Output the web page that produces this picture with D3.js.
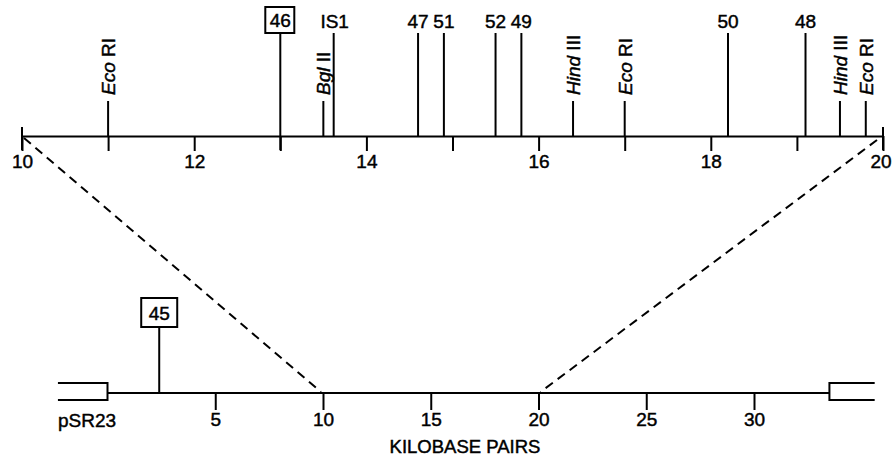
<!DOCTYPE html>
<html>
<head>
  <meta charset="utf-8">
  <title>pSR23 map</title>
  <script src="https://d3js.org/d3.v7.min.js"></script>
  <style>
    html, body { margin: 0; padding: 0; background: #fff; }
    svg { display: block; }
    text { font-family: "Liberation Sans", Arial, sans-serif; fill: #000; stroke: #000; stroke-width: 0.45px; }
    .line { stroke: #000; stroke-width: 2; fill: none; }
    .dash { stroke: #000; stroke-width: 2; stroke-dasharray: 9,6; fill: none; }
  </style>
</head>
<body>
  <svg width="892" height="457"></svg>
  <script>
    // Expanded segment (kb 10-20)
    const topTicks = d3.range(10, 21);
    const topTickLabels = [10, 12, 14, 16, 18, 20];

    // Restriction sites above the expanded segment
    const enzymeNames = ["Eco", "Bgl", "Hind", "Eco", "Hind", "Eco"];
    const enzymeSuffix = [" RI", " II", " III", " RI", " III", " RI"];
    const enzymePos = [11.0, 13.5, 16.4, 17.0, 19.5, 19.8];

    // Insertions in the expanded segment
    const insertLabels = ["46", "IS1", "47", "51", "52", "49", "50", "48"];
    const insertPos = [13.0, 13.62, 14.6, 14.9, 15.5, 15.8, 18.2, 19.1];
    const insertBoxed = [true, false, false, false, false, false, false, false];

    // Whole plasmid
    const bottomTicks = [5, 10, 15, 20, 25, 30];
    const plasmidLength = 33.5;
    const bottomInsertLabels = ["45"];
    const bottomInsertPos = [2.4];

    const svg = d3.select("svg");

    const xTop = d3.scaleLinear().domain([10, 20]).range([22, 883]);
    const xBot = d3.scaleLinear().domain([0, 30]).range([107.5, 754]);
    const yTop = 136, yBot = 393;
    const fs = 19;

    // dashed expansion lines
    svg.append("line").attr("class", "dash")
      .attr("x1", xTop(10) + 2).attr("y1", yTop + 2)
      .attr("x2", xBot(10) - 2).attr("y2", yBot - 1);
    svg.append("line").attr("class", "dash")
      .attr("x1", xTop(20) - 6).attr("y1", yTop + 4)
      .attr("x2", xBot(20) + 2).attr("y2", yBot - 1);

    // top axis
    const topAxis = svg.append("g")
      .attr("transform", `translate(0,${yTop})`)
      .call(d3.axisBottom(xTop)
        .tickValues(topTicks)
        .tickSize(15)
        .tickSizeOuter(0)
        .tickPadding(4)
        .tickFormat(d => topTickLabels.includes(d) ? d : ""));
    topAxis.select(".domain").attr("stroke-width", 2);
    topAxis.selectAll(".tick line").attr("stroke-width", 2);
    topAxis.selectAll("text")
      .attr("font-family", "'Liberation Sans', Arial, sans-serif")
      .attr("font-size", fs).attr("fill", "#000")
      .attr("dx", d => d === 20 ? -2.5 : 0);

    // end bars at 10 and 20
    svg.selectAll(".endbar").data([10, 20]).enter().append("line")
      .attr("class", "line endbar")
      .attr("x1", d => xTop(d)).attr("x2", d => xTop(d))
      .attr("y1", yTop - 9).attr("y2", yTop + 14);

    // enzyme sites
    const enz = svg.selectAll(".enz").data(enzymePos).enter().append("g")
      .attr("class", "enz");
    enz.append("line").attr("class", "line")
      .attr("x1", d => xTop(d)).attr("x2", d => xTop(d))
      .attr("y1", 101).attr("y2", yTop);
    const enzText = enz.append("text")
      .attr("transform", d => `translate(${xTop(d) + 7},95) rotate(-90)`)
      .attr("font-size", fs);
    enzText.append("tspan").attr("font-style", "italic").text((d, i) => enzymeNames[i]);
    enzText.append("tspan").text((d, i) => enzymeSuffix[i]);

    // insertions on expanded segment
    const ins = svg.selectAll(".ins").data(insertPos).enter().append("g")
      .attr("class", "ins");
    ins.append("line").attr("class", "line")
      .attr("x1", d => xTop(d)).attr("x2", d => xTop(d))
      .attr("y1", 33).attr("y2", (d, i) => insertBoxed[i] ? yTop + 14 : yTop);
    ins.filter((d, i) => insertBoxed[i]).append("rect")
      .attr("class", "line")
      .attr("x", d => xTop(d) - 15).attr("y", 7)
      .attr("width", 29).attr("height", 26);
    ins.append("text")
      .attr("x", (d, i) => xTop(d) + (insertLabels[i] === "IS1" ? 1 : 0))
      .attr("y", (d, i) => insertBoxed[i] ? 27 : 28)
      .attr("text-anchor", "middle")
      .attr("font-size", fs)
      .text((d, i) => insertLabels[i]);

    // bottom plasmid axis
    const botAxis = svg.append("g")
      .attr("transform", `translate(0,${yBot})`)
      .call(d3.axisBottom(xBot)
        .tickValues(bottomTicks)
        .tickSize(17)
        .tickSizeOuter(0)
        .tickPadding(3));
    botAxis.select(".domain").remove();
    botAxis.selectAll(".tick line").attr("stroke-width", 2);
    botAxis.selectAll("text")
      .attr("font-family", "'Liberation Sans', Arial, sans-serif")
      .attr("font-size", fs).attr("fill", "#000");

    svg.append("line").attr("class", "line")
      .attr("x1", xBot(0)).attr("x2", xBot(plasmidLength))
      .attr("y1", yBot).attr("y2", yBot);

    // vector ends (open boxes)
    const vecLen = 2.3;
    svg.append("path").attr("class", "line")
      .attr("d", `M${xBot(-vecLen)},${yBot - 10}H${xBot(0)}V${yBot + 7}H${xBot(-vecLen)}`);
    svg.append("path").attr("class", "line")
      .attr("d", `M${xBot(plasmidLength + 2.1)},${yBot - 10}H${xBot(plasmidLength)}V${yBot + 7}H${xBot(plasmidLength + 2.1)}`);

    // insertion 45 on plasmid
    const bins = svg.selectAll(".bins").data(bottomInsertPos).enter().append("g");
    bins.append("line").attr("class", "line")
      .attr("x1", d => xBot(d)).attr("x2", d => xBot(d))
      .attr("y1", 327).attr("y2", yBot);
    bins.append("rect").attr("class", "line")
      .attr("x", d => xBot(d) - 18).attr("y", 298)
      .attr("width", 36).attr("height", 29);
    bins.append("text")
      .attr("x", d => xBot(d)).attr("y", 320)
      .attr("text-anchor", "middle").attr("font-size", fs)
      .text((d, i) => bottomInsertLabels[i]);

    svg.append("text")
      .attr("x", 58).attr("y", 427)
      .attr("font-size", 19)
      .text("pSR23");

    svg.append("text")
      .attr("x", 465).attr("y", 453)
      .attr("text-anchor", "middle")
      .attr("font-size", 18.5)
      .text("KILOBASE PAIRS");
  </script>
</body>
</html>
